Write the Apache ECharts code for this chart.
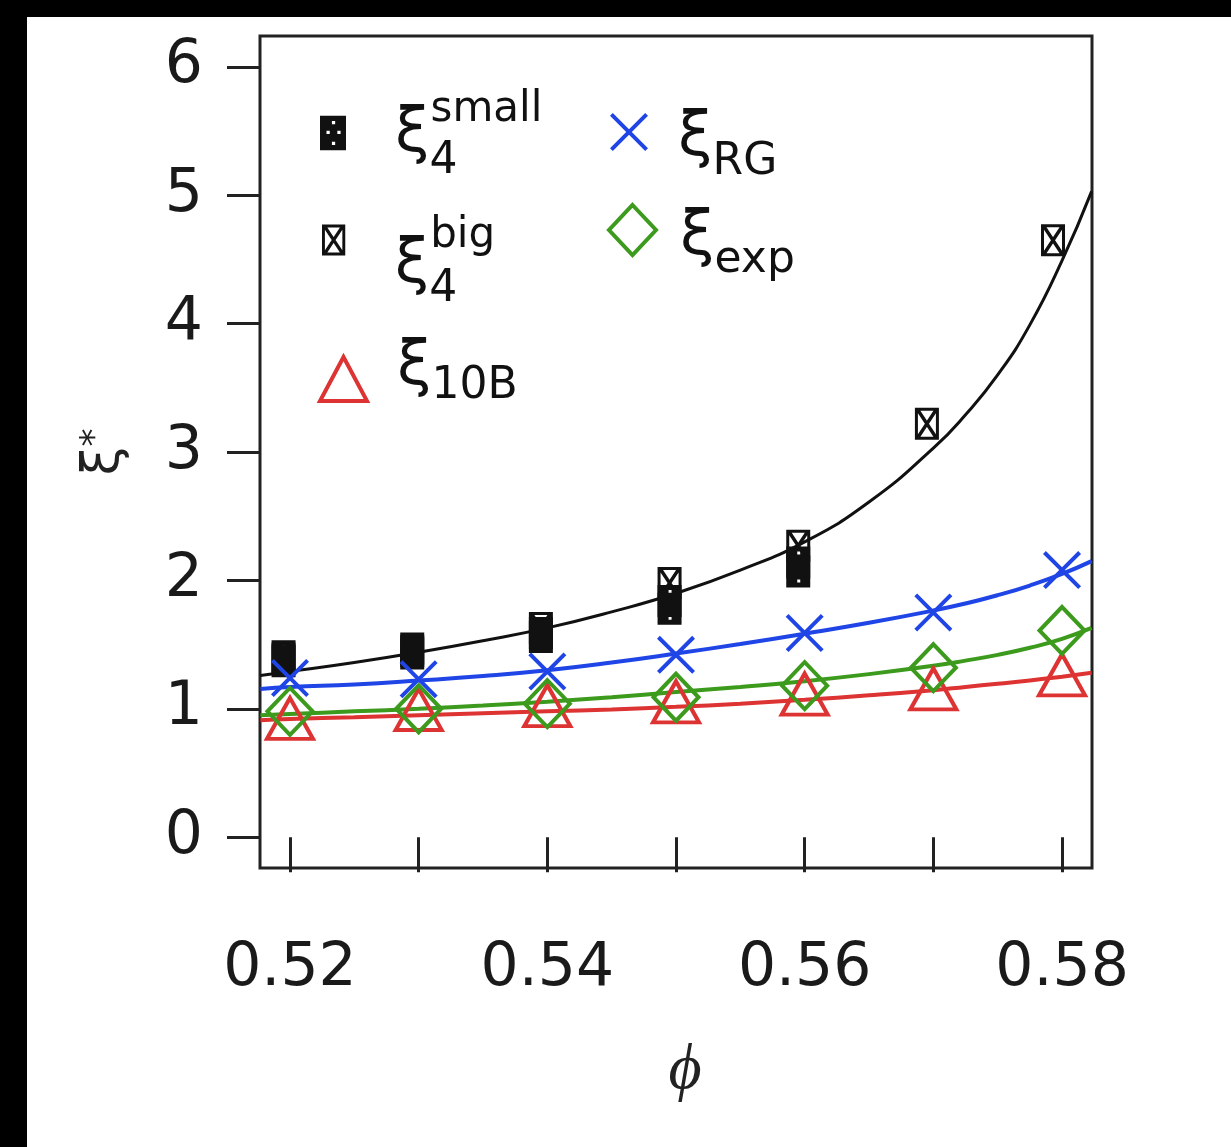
<!DOCTYPE html>
<html><head><meta charset="utf-8">
<script src="https://cdn.jsdelivr.net/npm/echarts@6/dist/echarts.min.js"></script>
<style>
html,body{margin:0;padding:0;background:#000;width:1231px;height:1147px;overflow:hidden}
#c{position:absolute;left:27px;top:17px;width:1204px;height:1130px;background:#fff}
</style>
</head><body><div id="c"></div>
<script>
// ---------- data ----------
const phi = [0.52, 0.53, 0.54, 0.55, 0.56, 0.57, 0.58];
const xTickValues = [0.52, 0.53, 0.54, 0.55, 0.56, 0.57, 0.58];
const xLabelValues = [0.52, 0.54, 0.56, 0.58];
const yTickValues = [0, 1, 2, 3, 4, 5, 6];

// black (xi4) markers sit slightly left of the ticks in the picture
const smallPhi = [0.5195, 0.5295, 0.5395, 0.5495, 0.5595];
const xi4SmallA = [1.41, 1.47, 1.59, 1.84, 2.14];
const xi4SmallB = [1.37, 1.43, 1.56, 1.78, 2.07];
const bigPhi = [0.5195, 0.5295, 0.5395, 0.5495, 0.5595, 0.5695, 0.5793];
const xi4Big = [1.39, 1.45, 1.63, 1.98, 2.27, 3.22, 4.65];

const xiRG  = [1.24, 1.23, 1.29, 1.42, 1.59, 1.75, 2.08];
const xiExp = [0.98, 1.00, 1.04, 1.09, 1.18, 1.32, 1.61];
const xi10B = [0.87, 0.94, 0.97, 1.00, 1.06, 1.10, 1.21];

// fitted curves
const curvePhi = [0.5177, 0.52, 0.525, 0.53, 0.535, 0.54, 0.545, 0.55, 0.555, 0.56, 0.565, 0.57, 0.5725, 0.575, 0.5775, 0.58, 0.5823];
const fitXi4 = [1.26, 1.29, 1.36, 1.44, 1.53, 1.63, 1.755, 1.90, 2.08, 2.30, 2.61, 3.03, 3.29, 3.60, 3.99, 4.49, 5.03];
const fitRG  = [1.155, 1.17, 1.19, 1.22, 1.255, 1.30, 1.36, 1.43, 1.505, 1.585, 1.67, 1.765, 1.82, 1.885, 1.96, 2.05, 2.15];
const fitExp = [0.95, 0.96, 0.98, 1.00, 1.025, 1.055, 1.09, 1.13, 1.17, 1.215, 1.27, 1.335, 1.375, 1.42, 1.475, 1.545, 1.63];
const fit10B = [0.91, 0.92, 0.935, 0.95, 0.965, 0.98, 0.995, 1.015, 1.04, 1.07, 1.105, 1.145, 1.17, 1.195, 1.22, 1.25, 1.28];

// ---------- styling ----------
const BLUE = '#1f45e6', GREEN = '#3c9a1c', RED = '#dd3333', BLACK = '#111';
const SMALL_PATH = 'path://M0,0L24,0L24,32L0,32Z M11,5L11,8L14,8L14,5Z M6,14L6,17L9,17L9,14Z M16,14L16,17L19,17L19,14Z M11,24L11,27L14,27L14,24Z';
const BIG_PATH = 'path://M0,0L24,0L24,32L0,32Z M3,3L3,29L21,29L21,3Z M3,3L5.5,3L21,26.5L21,29L18.5,29L3,5.5Z M21,3L21,5.5L5.5,29L3,29L3,26.5L18.5,3Z';
const X_PATH = 'path://M0,7.4L7.4,0L50,42.6L92.6,0L100,7.4L57.4,50L100,92.6L92.6,100L50,57.4L7.4,100L0,92.6L42.6,50Z';

const zip = (xs, ys) => xs.map((x, i) => [x, ys[i]]);
const FONT = 'DejaVu Sans';
const OX = 27, OY = 17; // chart div offset in page
const LH = 140;

function tok(fs, mid, cy, padLeft, extra) {
  const padTop = mid - cy + LH / 2 - fs / 2;
  return Object.assign({
    fontSize: fs, fontFamily: FONT, color: '#111', lineHeight: LH,
    verticalAlign: 'top', padding: [padTop, 0, 0, padLeft || 0]
  }, extra || {});
}

function legend(name, iconLeft, iconW, iconH, cy, text, rich, itemStyle) {
  return {
    data: [name], left: iconLeft - OX, top: cy - LH / 2 - OY, padding: 0,
    itemWidth: iconW, itemHeight: iconH, selectedMode: false,
    itemStyle: itemStyle || {},
    formatter: () => text,
    textStyle: { rich: rich }
  };
}

const legends = [
  legend('small', 320, 26, 35, 133, '{xi|ξ}{sb|4}{sp|small}', {
    xi: tok(62, 135, 133, 44), sb: tok(44, 161.5, 133, 0, { width: 1 }), sp: tok(42, 110, 133, 0)
  }),
  legend('big', 322, 24, 31, 240, '{xi|ξ}{sb|4}{sp|big}', {
    xi: tok(62, 266, 240, 44), sb: tok(44, 290, 240, 0, { width: 1 }), sp: tok(42, 236, 240, 0)
  }),
  legend('10B', 318, 47, 44, 379, '{xi|ξ}{sb|10B}', {
    xi: tok(62, 368, 379, 25), sb: tok(44, 386.5, 379, 0)
  }, { color: 'transparent', borderColor: RED, borderWidth: 4 }),
  legend('RG', 610, 38, 40, 132, '{xi|ξ}{sb|RG}', {
    xi: tok(62, 139, 132, 25), sb: tok(44, 163, 132, 0)
  }),
  legend('exp', 607, 47, 50, 230, '{xi|ξ}{sb|exp}', {
    xi: tok(62, 238, 230, 19), sb: tok(44, 261, 230, 0)
  }, { color: 'transparent', borderColor: GREEN, borderWidth: 4 })
];

const lineSeries = (data, color, width) => ({
  type: 'line', data: data, smooth: 0.5, showSymbol: false, symbol: 'none',
  lineStyle: { color: color, width: width }, silent: true, z: 2
});

const option = {
  animation: false,
  backgroundColor: '#fff',
  grid: { left: 233, top: 19, right: 139, bottom: 279, show: true, borderColor: '#222', borderWidth: 3, backgroundColor: 'transparent' },
  legend: legends,
  xAxis: {
    type: 'value', min: 0.51767, max: 0.58233,
    axisLine: { show: false }, splitLine: { show: false },
    axisTick: { show: true, length: 35, lineStyle: { color: '#222', width: 3 }, customValues: xTickValues },
    axisLabel: { customValues: xLabelValues, margin: 71, fontSize: 60, fontFamily: FONT, color: '#1a1a1a', formatter: v => v.toFixed(2) },
    name: 'ϕ', nameLocation: 'middle', nameGap: 171,
    nameTextStyle: { fontFamily: 'Liberation Serif', fontStyle: 'italic', fontSize: 64, color: '#222', padding: [0, 0, 0, 18] }
  },
  yAxis: {
    type: 'value', min: -0.24, max: 6.24,
    axisLine: { show: false }, splitLine: { show: false },
    axisTick: { show: true, length: 33, lineStyle: { color: '#222', width: 3 }, customValues: yTickValues },
    axisLabel: { customValues: yTickValues, margin: 57, fontSize: 60, fontFamily: FONT, color: '#1a1a1a' },
    name: '{a|ξ}{b|*}', nameLocation: 'middle', nameRotate: 90, nameGap: 130,
    nameTextStyle: { rich: { a: { fontSize: 52, fontFamily: FONT, color: '#222' }, b: { fontSize: 36, fontFamily: FONT, color: '#222', verticalAlign: 'top' } } }
  },
  series: [
    lineSeries(zip(curvePhi, fitXi4), BLACK, 3),
    {
      name: 'big', type: 'scatter', data: zip(bigPhi, xi4Big), symbol: BIG_PATH, symbolSize: [24, 32],
      itemStyle: { color: BLACK, opacity: 1 }, z: 3
    },
    {
      name: 'small', type: 'scatter',
      data: smallPhi.flatMap((p, i) => [[p, xi4SmallA[i]], [p, xi4SmallB[i]]]),
      symbol: SMALL_PATH, symbolSize: [24, 32], itemStyle: { color: BLACK, opacity: 1 }, z: 4
    },
    lineSeries(zip(curvePhi, fit10B), RED, 4),
    lineSeries(zip(curvePhi, fitExp), GREEN, 4),
    lineSeries(zip(curvePhi, fitRG), BLUE, 4),
    {
      name: '10B', type: 'scatter', data: zip(phi, xi10B), symbol: 'triangle', symbolSize: [46, 41], symbolOffset: [0, -7],
      itemStyle: { color: 'transparent', borderColor: RED, borderWidth: 4, opacity: 1 }, z: 5
    },
    {
      name: 'exp', type: 'scatter', data: zip(phi, xiExp), symbol: 'diamond', symbolSize: [45, 47],
      itemStyle: { color: 'transparent', borderColor: GREEN, borderWidth: 4, opacity: 1 }, z: 6
    },
    {
      name: 'RG', type: 'scatter', data: zip(phi, xiRG), symbol: X_PATH, symbolSize: 38,
      itemStyle: { color: BLUE, opacity: 1 }, z: 7
    }
  ]
};

const chart = echarts.init(document.getElementById('c'), null, { renderer: 'canvas' });
chart.setOption(option);
</script>
</body></html>
